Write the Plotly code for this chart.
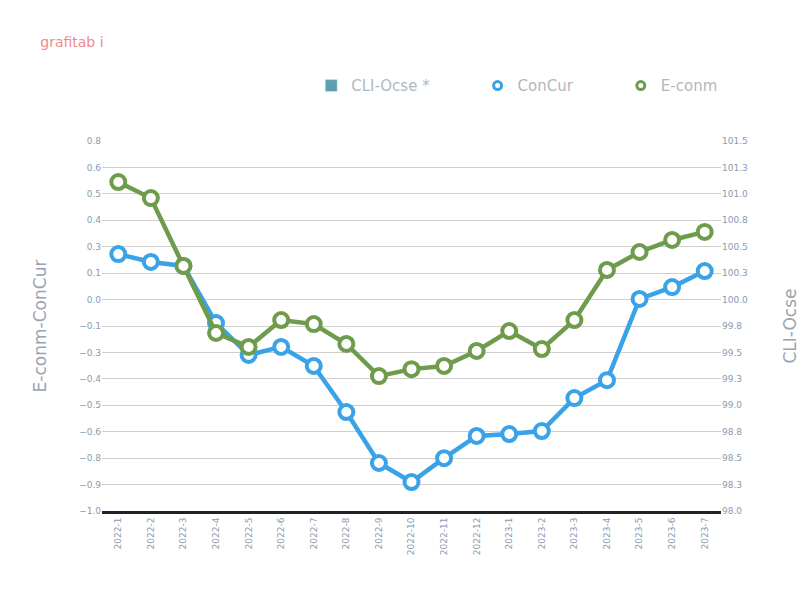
import plotly.graph_objects as go

months = ['2022-1', '2022-2', '2022-3', '2022-4', '2022-5', '2022-6', '2022-7',
          '2022-8', '2022-9', '2022-10', '2022-11', '2022-12', '2023-1', '2023-2',
          '2023-3', '2023-4', '2023-5', '2023-6', '2023-7']

concur = [0.215, 0.178, 0.159, -0.111, -0.262, -0.224, -0.314, -0.532, -0.773, -0.863,
          -0.750, -0.645, -0.636, -0.622, -0.466, -0.381, 0.003, 0.059, 0.135]
econm = [0.556, 0.480, 0.159, -0.158, -0.224, -0.097, -0.116, -0.210, -0.362, -0.329,
         -0.314, -0.243, -0.149, -0.234, -0.097, 0.140, 0.225, 0.282, 0.320]
cli = [None] * len(months)

blue = '#3aa2e6'
green = '#6f9c4c'
teal = '#5b9fb0'
tick_font = dict(family='DejaVu Sans', size=9, color='#8a9ab0')
title_font = dict(family='DejaVu Sans', size=17, color='#9aa4b0')

fig = go.Figure()

fig.add_trace(go.Bar(x=months, y=cli, name='CLI-Ocse *         ', marker_color=teal, yaxis='y2'))

# the lines themselves, legend entries are drawn by marker-only dummies
fig.add_trace(go.Scatter(
    x=months, y=concur, mode='lines+markers', showlegend=False,
    line=dict(color=blue, width=4.5),
    marker=dict(size=14, color='white', line=dict(color=blue, width=4)),
))
fig.add_trace(go.Scatter(
    x=months, y=econm, mode='lines+markers', showlegend=False,
    line=dict(color=green, width=4.5),
    marker=dict(size=14, color='white', line=dict(color=green, width=4)),
))
fig.add_trace(go.Scatter(x=[None], y=[None], mode='markers', name='ConCur         ',
                         marker=dict(size=8, color='white', line=dict(color=blue, width=3))))
fig.add_trace(go.Scatter(x=[None], y=[None], mode='markers', name='E-conm',
                         marker=dict(size=8, color='white', line=dict(color=green, width=3))))

fig.update_layout(
    width=807, height=608,
    paper_bgcolor='white', plot_bgcolor='white',
    margin=dict(l=94, r=94, t=133, b=105, autoexpand=False),
    title=dict(text='grafitab i', x=0.04, xanchor='left', y=0.944, yanchor='middle',
               font=dict(family='DejaVu Sans', size=14, color='#f08a8a')),
    legend=dict(orientation='h', x=0.338, xanchor='left', y=1.149, yanchor='middle',
                font=dict(family='DejaVu Sans', size=15, color='#b0b8c0'),
                itemwidth=30, traceorder='normal'),
    xaxis=dict(type='category', range=[-0.5, len(months) - 0.5], tickangle=-90,
               tickfont=tick_font, automargin=False,
               showgrid=False, showline=True, linecolor='#222222', linewidth=3,
               ticks=''),
    yaxis=dict(range=[-1.0, 0.75], dtick=0.125, tick0=0, tickformat='.1f', automargin=False,
               tickfont=tick_font, gridcolor='#cfcfcf', gridwidth=1, zeroline=False,
               title=dict(text='E-conm-ConCur', font=title_font, standoff=28)),
    yaxis2=dict(range=[98.0, 101.5], dtick=0.25, tick0=98, tickformat='.1f', automargin=False,
                overlaying='y', side='right', showgrid=False, zeroline=False,
                tickfont=tick_font,
                title=dict(text='CLI-Ocse', font=title_font, standoff=37)),
)

fig.write_html("out.html")
